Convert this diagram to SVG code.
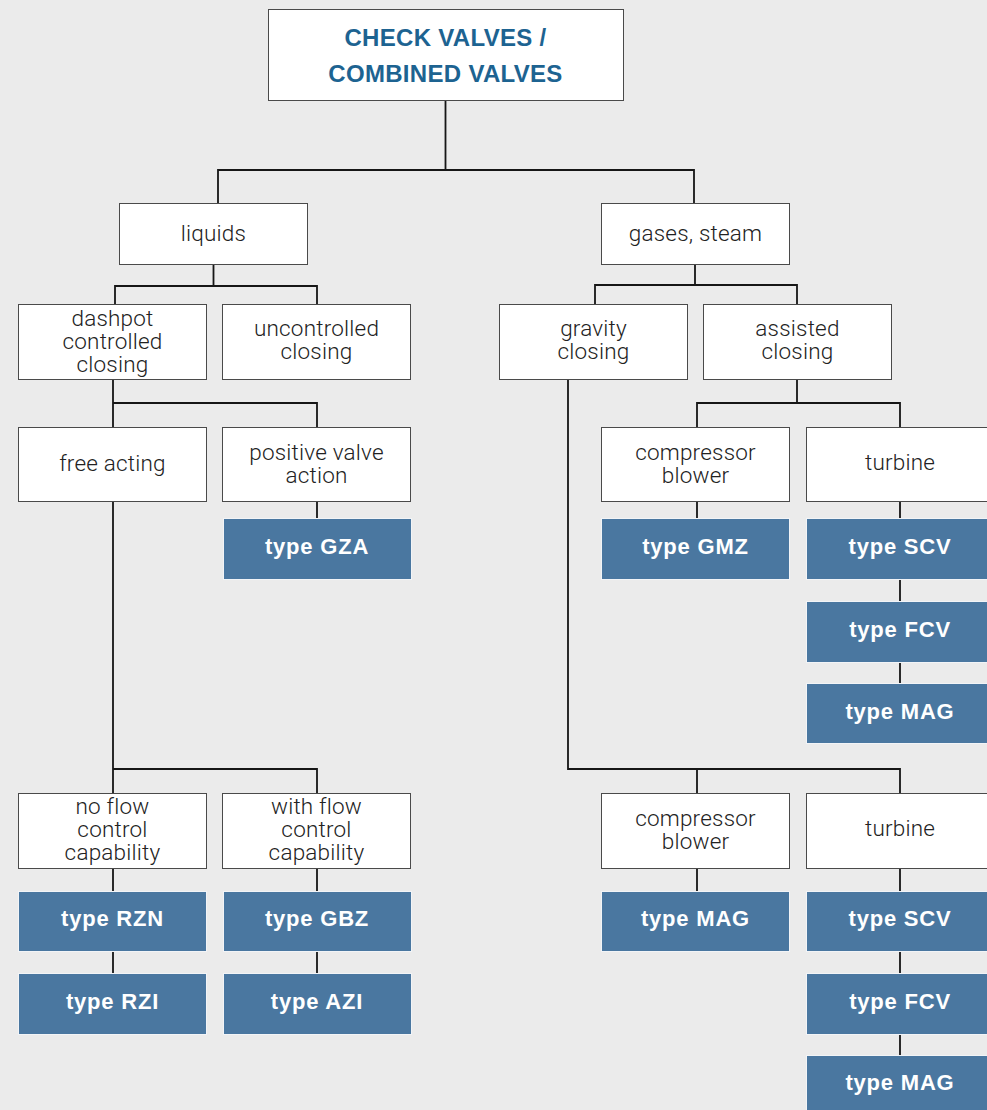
<svg xmlns="http://www.w3.org/2000/svg" width="987" height="1110" viewBox="0 0 987 1110">
<style>
.bg{fill:#ebebeb}
.box{fill:#ffffff;stroke:#4a4a4a;stroke-width:1}
.blue{fill:#4a77a0;stroke:#f2f4f7;stroke-width:1}
.t{font-family:Roboto,"Liberation Sans",Arial,sans-serif;font-weight:300;font-size:22.5px;letter-spacing:0.2px;fill:#222;text-anchor:middle}
.b{font-family:"Liberation Sans",Arial,sans-serif;font-weight:bold;font-size:22px;letter-spacing:0.8px;fill:#ffffff;text-anchor:middle}
.title{font-family:"Liberation Sans",Arial,sans-serif;font-weight:bold;font-size:24px;letter-spacing:0.3px;fill:#1d6391;text-anchor:middle}
.c{fill:none;stroke:#161616;stroke-width:1.8}
</style>
<rect class="bg" x="0" y="0" width="987" height="1110"/>
<g id="connectors">
<path class="c" d="M445.5 101V170M218 203V170H694V203"/>
<path class="c" d="M213.5 265V286M115 304V286H317V304"/>
<path class="c" d="M695 265V285M595 304V285H797V304"/>
<path class="c" d="M113 379V403M113 427V403H317V427"/>
<path class="c" d="M797 379V403M697 427V403H900V427"/>
<path class="c" d="M317 501V518M697 501V518M900 501V518M900 579V601M900 662V683"/>
<path class="c" d="M113 501V793M113 769H317V793"/>
<path class="c" d="M568 379V769H900V793M697 769V793"/>
<path class="c" d="M113 868V891M113 951V973M317 868V891M317 951V973"/>
<path class="c" d="M697 868V891M900 868V891M900 951V973M900 1034V1055"/>
</g>
<g id="n-root"><rect class="box" x="268.5" y="9.5" width="355" height="91"/><text class="title"><tspan x="445.5" y="46">CHECK VALVES /</tspan><tspan x="445.5" y="82">COMBINED VALVES</tspan></text></g>
<g id="n-liquids"><rect class="box" x="119.5" y="203.5" width="188" height="61"/><text class="t" x="213.5" y="241">liquids</text></g>
<g id="n-gases"><rect class="box" x="601.5" y="203.5" width="188" height="61"/><text class="t" x="695.5" y="241">gases, steam</text></g>
<g id="n-dashpot"><rect class="box" x="18.5" y="304.5" width="188" height="75"/><text class="t"><tspan x="112.5" y="326">dashpot</tspan><tspan x="112.5" y="349">controlled</tspan><tspan x="112.5" y="372">closing</tspan></text></g>
<g id="n-uncontrolled"><rect class="box" x="222.5" y="304.5" width="188" height="75"/><text class="t"><tspan x="316.5" y="336">uncontrolled</tspan><tspan x="316.5" y="359">closing</tspan></text></g>
<g id="n-gravity"><rect class="box" x="499.5" y="304.5" width="188" height="75"/><text class="t"><tspan x="593.5" y="336">gravity</tspan><tspan x="593.5" y="359">closing</tspan></text></g>
<g id="n-assisted"><rect class="box" x="703.5" y="304.5" width="188" height="75"/><text class="t"><tspan x="797.5" y="336">assisted</tspan><tspan x="797.5" y="359">closing</tspan></text></g>
<g id="n-free"><rect class="box" x="18.5" y="427.5" width="188" height="74"/><text class="t" x="112.5" y="471">free acting</text></g>
<g id="n-positive"><rect class="box" x="222.5" y="427.5" width="188" height="74"/><text class="t"><tspan x="316.5" y="460">positive valve</tspan><tspan x="316.5" y="483">action</tspan></text></g>
<g id="n-comp1"><rect class="box" x="601.5" y="427.5" width="188" height="74"/><text class="t"><tspan x="695.5" y="460">compressor</tspan><tspan x="695.5" y="483">blower</tspan></text></g>
<g id="n-turb1"><rect class="box" x="806.5" y="427.5" width="188" height="74"/><text class="t" x="900" y="470">turbine</text></g>
<g id="n-gza"><rect class="blue" x="223.5" y="518.5" width="188" height="61"/><text class="b" x="317" y="554">type GZA</text></g>
<g id="n-gmz"><rect class="blue" x="601.5" y="518.5" width="188" height="61"/><text class="b" x="695.5" y="554">type GMZ</text></g>
<g id="n-scv1"><rect class="blue" x="806.5" y="518.5" width="188" height="61"/><text class="b" x="900" y="554">type SCV</text></g>
<g id="n-fcv1"><rect class="blue" x="806.5" y="601.5" width="188" height="61"/><text class="b" x="900" y="637">type FCV</text></g>
<g id="n-mag1"><rect class="blue" x="806.5" y="683.5" width="188" height="60"/><text class="b" x="900" y="719">type MAG</text></g>
<g id="n-noflow"><rect class="box" x="18.5" y="793.5" width="188" height="75"/><text class="t"><tspan x="112.5" y="814">no flow</tspan><tspan x="112.5" y="837">control</tspan><tspan x="112.5" y="860">capability</tspan></text></g>
<g id="n-withflow"><rect class="box" x="222.5" y="793.5" width="188" height="75"/><text class="t"><tspan x="316.5" y="814">with flow</tspan><tspan x="316.5" y="837">control</tspan><tspan x="316.5" y="860">capability</tspan></text></g>
<g id="n-comp2"><rect class="box" x="601.5" y="793.5" width="188" height="75"/><text class="t"><tspan x="695.5" y="826">compressor</tspan><tspan x="695.5" y="849">blower</tspan></text></g>
<g id="n-turb2"><rect class="box" x="806.5" y="793.5" width="188" height="75"/><text class="t" x="900" y="836">turbine</text></g>
<g id="n-rzn"><rect class="blue" x="18.5" y="891.5" width="188" height="60"/><text class="b" x="112.5" y="926">type RZN</text></g>
<g id="n-gbz"><rect class="blue" x="223.5" y="891.5" width="188" height="60"/><text class="b" x="317" y="926">type GBZ</text></g>
<g id="n-mag2"><rect class="blue" x="601.5" y="891.5" width="188" height="60"/><text class="b" x="695.5" y="926">type MAG</text></g>
<g id="n-scv2"><rect class="blue" x="806.5" y="891.5" width="188" height="60"/><text class="b" x="900" y="926">type SCV</text></g>
<g id="n-rzi"><rect class="blue" x="18.5" y="973.5" width="188" height="61"/><text class="b" x="112.5" y="1009">type RZI</text></g>
<g id="n-azi"><rect class="blue" x="223.5" y="973.5" width="188" height="61"/><text class="b" x="317" y="1009">type AZI</text></g>
<g id="n-fcv2"><rect class="blue" x="806.5" y="973.5" width="188" height="61"/><text class="b" x="900" y="1009">type FCV</text></g>
<g id="n-mag3"><rect class="blue" x="806.5" y="1055.5" width="188" height="61"/><text class="b" x="900" y="1090">type MAG</text></g>
</svg>
